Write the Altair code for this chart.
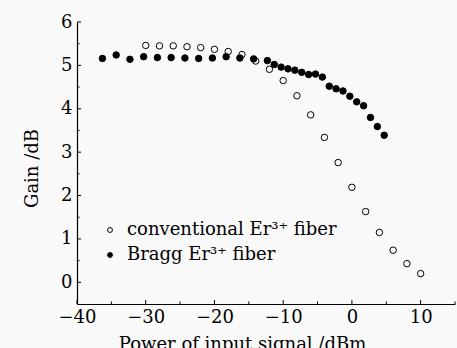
import altair as alt
import pandas as pd

# ---- data ----
bragg_x = [-36.3, -34.3, -32.3, -30.3, -28.3, -26.3, -24.3, -22.3, -20.3, -18.3,
           -16.3, -14.3, -12.3, -11.3, -10.3, -9.3, -8.3, -7.3, -6.3, -5.3,
           -4.3, -3.3, -2.3, -1.3, -0.3, 0.7, 1.7, 2.7, 3.7, 4.7]
bragg_y = [5.16, 5.24, 5.14, 5.20, 5.18, 5.18, 5.17, 5.16, 5.17, 5.20,
           5.17, 5.15, 5.11, 5.02, 4.96, 4.92, 4.89, 4.84, 4.79, 4.80,
           4.73, 4.52, 4.46, 4.41, 4.29, 4.16, 4.07, 3.80, 3.59, 3.39]
conv_x = [-30, -28, -26, -24, -22, -20, -18, -16, -14, -12, -10,
          -8, -6, -4, -2, 0, 2, 4, 6, 8, 10]
conv_y = [5.46, 5.45, 5.45, 5.43, 5.41, 5.37, 5.32, 5.25, 5.10, 4.91, 4.65,
          4.30, 3.86, 3.34, 2.76, 2.19, 1.63, 1.15, 0.74, 0.43, 0.20]

series_names = ["conventional Er\u00b3\u207a fiber", "Bragg Er\u00b3\u207a fiber"]

x_ticks_major = [-40, -30, -20, -10, 0, 10]
x_ticks_minor = [-35, -25, -15, -5, 5, 15]
y_ticks_major = [0, 1, 2, 3, 4, 5, 6]
y_ticks_minor = [0.5, 1.5, 2.5, 3.5, 4.5, 5.5]

W, H = 378, 282
FONT = "DejaVu Serif"
BG = "#f9f9f9"

df = pd.concat([
    pd.DataFrame({"x": conv_x, "y": conv_y, "series": series_names[0]}),
    pd.DataFrame({"x": bragg_x, "y": bragg_y, "series": series_names[1]}),
])

xscale = alt.Scale(domain=[-40, 15], nice=False, zero=False)
yscale = alt.Scale(domain=[-0.5, 6], nice=False, zero=False)

points = alt.Chart(df).mark_point(shape="circle", filled=True, size=42,
                                  stroke="black", strokeWidth=1, opacity=1).encode(
    x=alt.X("x:Q", scale=xscale,
            axis=alt.Axis(values=x_ticks_major, ticks=False, grid=False,
                          domainColor="black", domainWidth=1.2,
                          labelFont=FONT, labelFontSize=18, labelColor="black",
                          labelPadding=4, labelFlush=False, labelOverlap=False,
                          title="Power of input signal /dBm", titleFont=FONT,
                          titleFontSize=18, titleFontWeight="normal", titleColor="black",
                          titleX=165, titleY=45, titleAlign="center",
                          titleBaseline="alphabetic")),
    y=alt.Y("y:Q", scale=yscale,
            axis=alt.Axis(values=y_ticks_major, ticks=False, grid=False,
                          domainColor="black", domainWidth=1.2,
                          labelFont=FONT, labelFontSize=18, labelColor="black",
                          labelPadding=5, labelFlush=False, labelOverlap=False,
                          title="Gain /dB", titleFont=FONT, titleFontSize=18,
                          titleFontWeight="normal", titleColor="black",
                          titleX=-45, titleY=146, titleAlign="center",
                          titleBaseline="middle", titleAngle=270)),
    fill=alt.Fill("series:N",
                  scale=alt.Scale(domain=series_names, range=[BG, "black"]),
                  legend=alt.Legend(title=None, orient="none", legendX=24, legendY=199,
                                    symbolType="circle", symbolSize=24,
                                    symbolStrokeColor="black", symbolStrokeWidth=1,
                                    labelFont=FONT, labelFontSize=18, labelColor="black",
                                    labelOffset=8, rowPadding=7, padding=0,
                                    labelLimit=400)),
)

xt_major = alt.Chart(pd.DataFrame({"v": x_ticks_major})).mark_rule(color="black", strokeWidth=1).encode(
    x=alt.X("v:Q", scale=xscale), y=alt.value(H), y2=alt.value(H - 4))
xt_minor = alt.Chart(pd.DataFrame({"v": x_ticks_minor})).mark_rule(color="black", strokeWidth=1).encode(
    x=alt.X("v:Q", scale=xscale), y=alt.value(H), y2=alt.value(H - 2.5))
yt_major = alt.Chart(pd.DataFrame({"v": y_ticks_major})).mark_rule(color="black", strokeWidth=1).encode(
    y=alt.Y("v:Q", scale=yscale), x=alt.value(0), x2=alt.value(4))
yt_minor = alt.Chart(pd.DataFrame({"v": y_ticks_minor})).mark_rule(color="black", strokeWidth=1).encode(
    y=alt.Y("v:Q", scale=yscale), x=alt.value(0), x2=alt.value(2.5))

chart = alt.layer(points, xt_major, xt_minor, yt_major, yt_minor).properties(
    width=W, height=H,
    autosize=alt.AutoSizeParams(type="none"),
    padding={"left": 77, "top": 22, "right": 2, "bottom": 44},
    background=BG,
).configure_view(stroke=None)

chart.save("out.html", embed_options={"renderer": "svg", "actions": False})
